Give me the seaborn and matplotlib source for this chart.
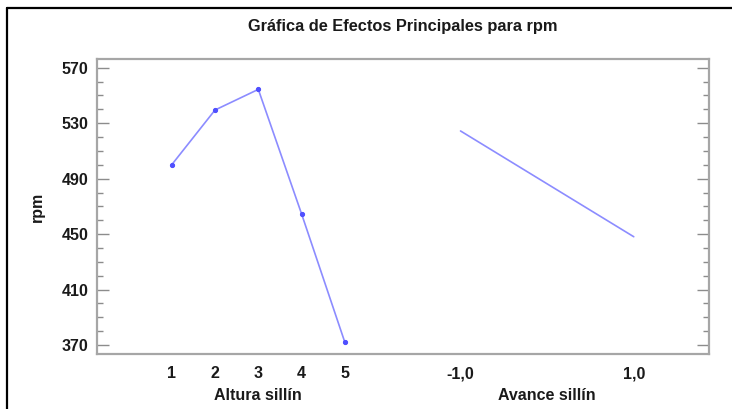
import matplotlib
matplotlib.use("Agg")
import matplotlib.pyplot as plt
from matplotlib.lines import Line2D
from matplotlib.ticker import MultipleLocator
import numpy as np
import pandas as pd
import seaborn as sns

# Main effects for rpm
altura_levels = [1, 2, 3, 4, 5]
altura_rpm = [500.0, 539.5, 554.4, 464.5, 371.8]
avance_levels = [-1.0, 1.0]
avance_rpm = [524.4, 448.1]

altura_ticklabels = ["1", "2", "3", "4", "5"]
avance_ticklabels = ["-1,0", "1,0"]
factor_names = ["Altura sillín", "Avance sillín"]
title = "Gráfica de Efectos Principales para rpm"
ylabel = "rpm"

sns.set_theme(style="white")
plt.rcParams["font.family"] = ["Liberation Sans", "DejaVu Sans"]
plt.rcParams["font.weight"] = "bold"

FS = 11.5
TXT = "#1a1a1a"

# Both factors share one x axis; the second factor is placed to the right
def avance_to_x(v):
    return 9.67 + 2.0 * np.asarray(v)

df_a = pd.DataFrame({"x": altura_levels, "rpm": altura_rpm, "factor": factor_names[0]})
df_b = pd.DataFrame({"x": avance_to_x(avance_levels), "rpm": avance_rpm, "factor": factor_names[1]})

fig = plt.figure(figsize=(7.32, 4.09), dpi=100)
ax = fig.add_axes([0.1321, 0.1345, 0.8369, 0.7205])

line_col = "#8c8cff"
sns.lineplot(data=df_a, x="x", y="rpm", ax=ax, color=line_col, lw=1.2,
             marker="o", markersize=3.0, markerfacecolor="#5050ff",
             markeredgecolor="#5050ff", legend=False)
sns.lineplot(data=df_b, x="x", y="rpm", ax=ax, color=line_col, lw=1.2,
             legend=False)

ax.set_xlim(-0.732, 13.415)
ax.set_ylim(363.5, 576.1)

# x ticks: factor levels only, no tick marks
xticks = list(altura_levels) + list(avance_to_x(avance_levels))
ax.set_xticks(xticks)
ax.set_xticklabels(altura_ticklabels + avance_ticklabels)
ax.tick_params(axis="x", length=0, pad=9, labelsize=FS, labelcolor=TXT)

# y ticks on both sides, pointing inward
ax.yaxis.set_major_locator(MultipleLocator(40))
ax.yaxis.set_minor_locator(MultipleLocator(10))
ax.set_yticks(np.arange(370, 571, 40))
ax.tick_params(axis="y", which="major", direction="in", length=8.5, width=1.0,
               color="#8c8c8c", left=True, right=True, labelsize=FS,
               labelcolor=TXT, pad=6)
ax.tick_params(axis="y", which="minor", direction="in", length=4.3, width=1.0,
               color="#8c8c8c", left=True, right=True)
for lab in ax.get_xticklabels() + ax.get_yticklabels():
    lab.set_fontweight("bold")

for sp in ax.spines.values():
    sp.set_color("#a6a6a6")
    sp.set_linewidth(1.6)

ax.set_xlabel("")
ax.set_ylabel(ylabel, fontsize=FS, fontweight="bold", color=TXT, labelpad=12)

# factor names under the tick labels
ax.text(3, -0.14, factor_names[0], transform=ax.get_xaxis_transform(),
        ha="center", va="center", fontsize=FS, fontweight="bold", color=TXT)
ax.text(float(np.mean(avance_to_x(avance_levels))), -0.14, factor_names[1],
        transform=ax.get_xaxis_transform(), ha="center", va="center",
        fontsize=FS, fontweight="bold", color=TXT)

fig.text(0.5505, 1 - 26 / 409, title, ha="center", va="center",
         fontsize=11.8, fontweight="bold", color=TXT)

# frame lines on the left and top edges of the figure
fig.add_artist(Line2D([6.5 / 732, 6.5 / 732], [0, 1 - 8 / 409], color="black", lw=1.6,
                      transform=fig.transFigure))
fig.add_artist(Line2D([6.5 / 732, 1], [1 - 8 / 409, 1 - 8 / 409], color="black", lw=1.6,
                      transform=fig.transFigure))

fig.savefig("out.png", dpi=100, facecolor="white")
